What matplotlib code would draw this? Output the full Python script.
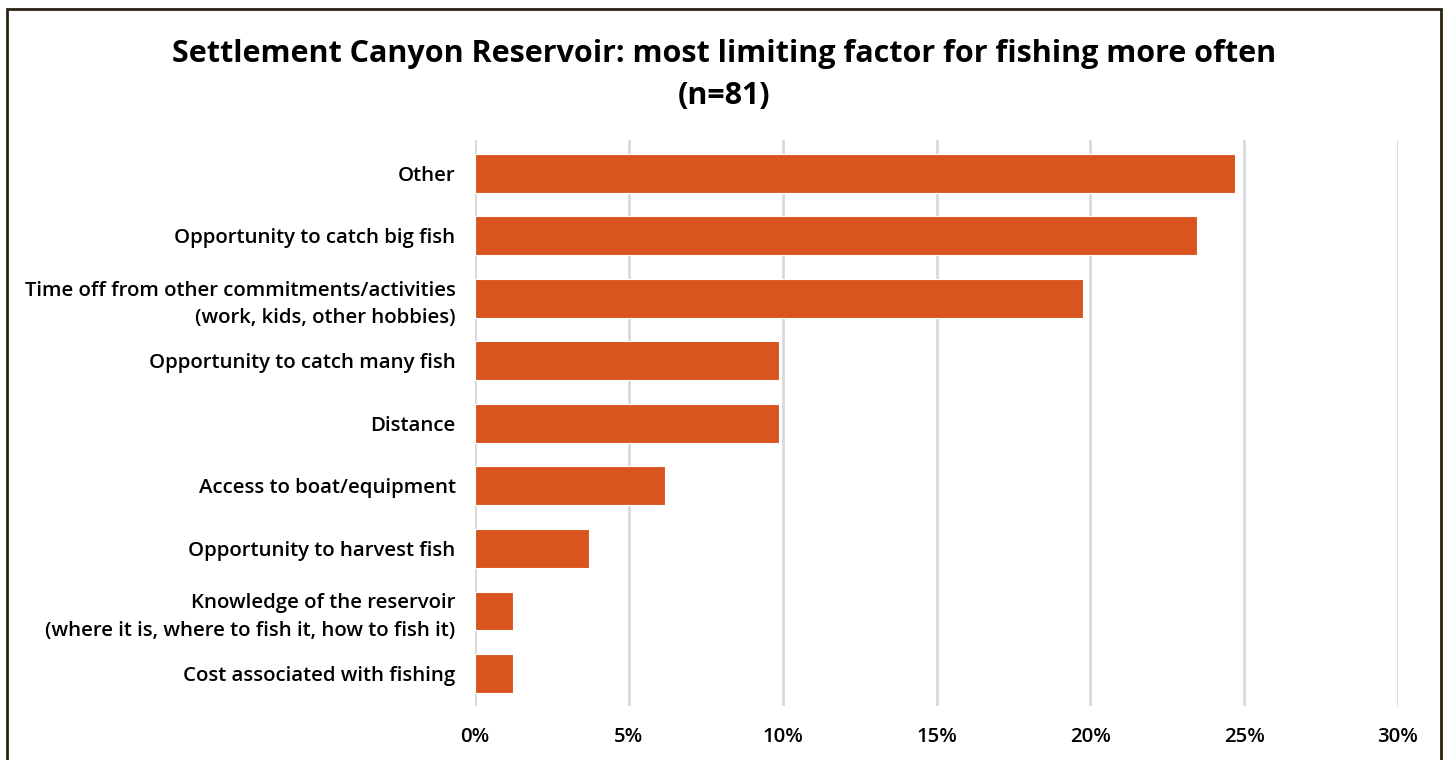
import matplotlib.pyplot as plt
from matplotlib.patches import Rectangle
from matplotlib.ticker import FuncFormatter

# categorias e porcentagens (n=81)
categorias = [
    "Other",
    "Opportunity to catch big fish",
    "Time off from other commitments/activities\n(work, kids, other hobbies)",
    "Opportunity to catch many fish",
    "Distance",
    "Access to boat/equipment",
    "Opportunity to harvest fish",
    "Knowledge of the reservoir\n(where it is, where to fish it, how to fish it)",
    "Cost associated with fishing",
]
valores = [24.69, 23.46, 19.75, 9.88, 9.88, 6.17, 3.70, 1.23, 1.23]
ticks = [0, 5, 10, 15, 20, 25, 30]

plt.rcParams["font.family"] = ["Open Sans", "DejaVu Sans"]

fig = plt.figure(figsize=(14.49, 7.6), dpi=100)
ax = fig.add_axes([475 / 1449, 54 / 760, (1398 - 475) / 1449, (706 - 140) / 760])

pos = list(range(len(categorias)))
ax.barh(pos, valores, height=0.62, color="#D9541E", edgecolor="white", linewidth=0.8, zorder=3)

ax.set_xlim(0, 30)
ax.set_ylim(8.52, -0.53)
ax.set_xticks(ticks)
ax.xaxis.set_major_formatter(FuncFormatter(lambda v, p: f"{v:.0f}%"))
ax.set_yticks(pos)
ax.set_yticklabels(categorias, fontsize=14.7, linespacing=1.5, fontweight="semibold")
for t in ax.get_xticklabels():
    t.set_fontweight("semibold")
ax.tick_params(axis="x", labelsize=14.7, length=0, pad=15)
ax.tick_params(axis="y", length=0, pad=14)
ax.grid(axis="x", color="#d9d9d9", linewidth=2, zorder=0)
for s in ax.spines.values():
    s.set_visible(False)

fig.text(0.5, 1 - 75 / 760, "Settlement Canyon Reservoir: most limiting factor for fishing more often\n(n=81)",
         ha="center", va="center", fontsize=22, fontweight="bold", linespacing=1.5)

# moldura
fig.patches.append(Rectangle((7 / 1449, -0.1), (1441 - 7) / 1449, 1.1 - 9 / 760,
                             transform=fig.transFigure, fill=False, edgecolor="#2b2414", linewidth=2))

plt.savefig("out.png", dpi=100)
